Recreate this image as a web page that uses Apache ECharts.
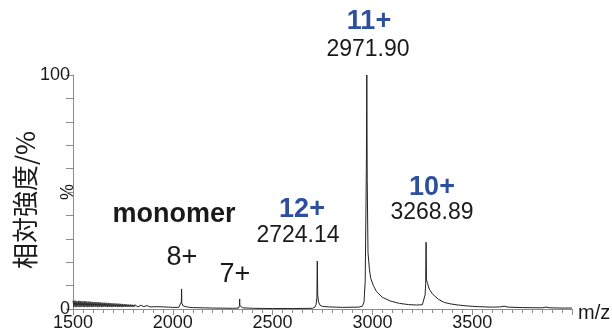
<!DOCTYPE html>
<html>
<head>
<meta charset="utf-8">
<script src="https://cdn.jsdelivr.net/npm/echarts@6/dist/echarts.min.js"></script>
<style>
  html, body { margin: 0; padding: 0; background: #fff; }
  #chart-container { width: 612px; height: 336px; }
</style>
</head>
<body>
<div id="chart-container"></div>
<script>
  // m/z positions and relative intensity (%)
  var mzValues = [
    1500, 1505, 1510, 1515, 1520, 1525, 1530, 1535, 1540, 1545,
    1550, 1555, 1560, 1565, 1570, 1575, 1580, 1585, 1590, 1595,
    1600, 1605, 1610, 1615, 1620, 1625, 1630, 1635, 1640, 1645,
    1650, 1655, 1660, 1665, 1670, 1675, 1680, 1685, 1690, 1695,
    1700, 1705, 1710, 1715, 1720, 1725, 1730, 1735, 1740, 1745,
    1750, 1755, 1760, 1765, 1770, 1775, 1780, 1785, 1790, 1795,
    1800, 1805, 1810, 1815, 1820, 1825, 1830, 1835, 1840, 1845,
    1850, 1855, 1860, 1865, 1870, 1875, 1880, 1885, 1890, 1895,
    1920, 1950, 1980, 2000,
    2030, 2040, 2043, 2044, 2045, 2048, 2052, 2056, 2059, 2062,
    2070, 2075, 2078, 2085, 2100, 2200, 2300, 2330, 2334, 2335,
    2336, 2340, 2350, 2400, 2500, 2600, 2700, 2712, 2718, 2722,
    2724, 2726, 2730, 2738, 2750, 2780, 2850, 2930, 2950, 2958,
    2964, 2968, 2970, 2972, 2974, 2978, 2985, 2992, 3005, 3020,
    3050, 3090, 3135, 3180, 3220, 3250, 3260, 3264, 3267, 3269,
    3271, 3276, 3285, 3300, 3330, 3360, 3390, 3430, 3475, 3530,
    3600, 3640, 3660, 3680, 3750, 3850, 3870, 3890, 3950, 4000
  ];
  var intensityValues = [
    3.5, 0.9, 3.6, 0.8, 3.4, 0.9, 3.5, 0.8, 3.4, 0.9,
    3.3, 0.8, 3.4, 0.9, 3.2, 0.8, 3.2, 0.9, 3.1, 0.8,
    3.0, 0.9, 3.0, 0.9, 2.9, 0.8, 2.9, 0.9, 2.8, 0.8,
    2.7, 0.9, 2.7, 0.9, 2.6, 0.8, 2.6, 0.9, 2.5, 0.8,
    2.4, 0.9, 2.4, 0.9, 2.3, 0.8, 2.3, 0.9, 2.2, 0.8,
    2.1, 0.9, 2.1, 0.9, 2.0, 0.9, 1.9, 0.9, 1.9, 0.9,
    1.8, 0.9, 1.8, 1.0, 1.7, 0.9, 1.7, 1.0, 1.6, 0.9,
    1.6, 1.0, 1.5, 0.9, 1.5, 1.0, 1.4, 0.9, 1.3, 1.0,
    1.0, 0.9, 0.8, 0.7,
    0.7, 1.0, 3.0, 8.6, 2.5, 1.8, 1.3, 1.8, 1.1, 1.5,
    0.9, 1.3, 0.8, 0.7, 0.6, 0.4, 0.3, 0.4, 1.5, 4.3,
    1.5, 0.8, 0.5, 0.3, 0.2, 0.2, 0.3, 0.8, 2.0, 5.0,
    20.5, 6.0, 3.0, 1.6, 1.1, 0.9, 0.7, 0.8, 1.2, 3.0,
    12.0, 45.0, 64.0, 100.0, 55.0, 24.0, 17.0, 13.0, 10.0, 7.5,
    5.0, 3.4, 2.4, 1.9, 1.7, 1.8, 2.6, 6.0, 11.0, 28.5,
    12.5, 11.0, 8.5, 6.5, 4.2, 2.8, 2.2, 1.7, 1.3, 1.0,
    0.8, 0.9, 1.2, 0.8, 0.6, 0.5, 0.8, 0.5, 0.4, 0.4
  ];

  var xTicks = { min: 1500, max: 4000, step: 500 };
  var yTicks = { min: 0, max: 100, step: 10, shown: [0, 100] };

  // peak annotations: charge labels and m/z labels
  var peakCharges = ['11+', '12+', '10+'];
  var peakMasses = ['2971.90', '2724.14', '3268.89'];
  var monomerLabels = ['monomer', '8+', '7+'];

  var spectrum = mzValues.map(function (mz, i) { return [mz, intensityValues[i]]; });

  var FONT = '"Liberation Sans", Arial, sans-serif';
  var BLUE = '#2c4f9e';
  var INK = '#1a1a1a';

  var dom = document.getElementById('chart-container');
  var myChart = echarts.init(dom, null, { renderer: 'canvas' });

  function txt(text, x, y, size, opts) {
    opts = opts || {};
    return {
      type: 'text',
      x: x,
      y: y,
      rotation: opts.rotation || 0,
      style: {
        text: text,
        x: 0,
        y: 0,
        fill: opts.color || INK,
        font: (opts.bold ? 'bold ' : '') + size + 'px ' + (opts.family || FONT),
        align: opts.align || 'center',
        verticalAlign: 'middle'
      }
    };
  }

  var option = {
    animation: false,
    backgroundColor: '#fff',
    grid: { left: 73, right: 40, top: 75, bottom: 27 },
    xAxis: {
      type: 'value',
      min: xTicks.min,
      max: xTicks.max,
      interval: xTicks.step,
      splitLine: { show: false },
      axisLine: { lineStyle: { color: '#8c8c8c', width: 1 } },
      axisTick: { length: 6, lineStyle: { color: '#8c8c8c' } },
      minorTick: { show: true, splitNumber: 10, length: 4, lineStyle: { color: '#8c8c8c' } },
      axisLabel: {
        showMaxLabel: false,
        margin: 5,
        color: INK,
        fontSize: 18,
        fontFamily: FONT,
        formatter: function (v) { return String(v); }
      }
    },
    yAxis: {
      type: 'value',
      min: yTicks.min,
      max: yTicks.max,
      interval: yTicks.step,
      splitLine: { show: false },
      axisLine: { show: true, lineStyle: { color: '#8c8c8c', width: 1 } },
      axisTick: { show: true, length: 7, lineStyle: { color: '#8c8c8c' } },
      axisLabel: {
        margin: 3,
        color: INK,
        fontSize: 18,
        fontFamily: FONT,
        formatter: function (v) { return yTicks.shown.indexOf(v) >= 0 ? String(v) : ''; }
      }
    },
    series: [{
      type: 'line',
      data: spectrum,
      showSymbol: false,
      lineStyle: { color: '#222', width: 1 },
      silent: true
    }],
    graphic: [
      txt(peakCharges[0], 369, 22, 27, { bold: true, color: BLUE }),
      txt(peakMasses[0], 368, 50, 23),
      txt(peakCharges[1], 302, 210, 27, { bold: true, color: BLUE }),
      txt(peakMasses[1], 298, 236, 23),
      txt(peakCharges[2], 432, 188, 27, { bold: true, color: BLUE }),
      txt(peakMasses[2], 432, 213, 23),
      txt(monomerLabels[0], 174, 215, 27, { bold: true }),
      txt(monomerLabels[1], 182, 258, 27),
      txt(monomerLabels[2], 235, 275, 27),
      txt('m/z', 578, 313, 20, { align: 'left' }),
      txt('%', 68, 192, 18, { rotation: Math.PI / 2 }),
      txt('相対強度/%', 25, 200, 26, { rotation: Math.PI / 2, family: '"Noto Sans CJK JP", sans-serif' })
    ]
  };

  myChart.setOption(option);
</script>
</body>
</html>
